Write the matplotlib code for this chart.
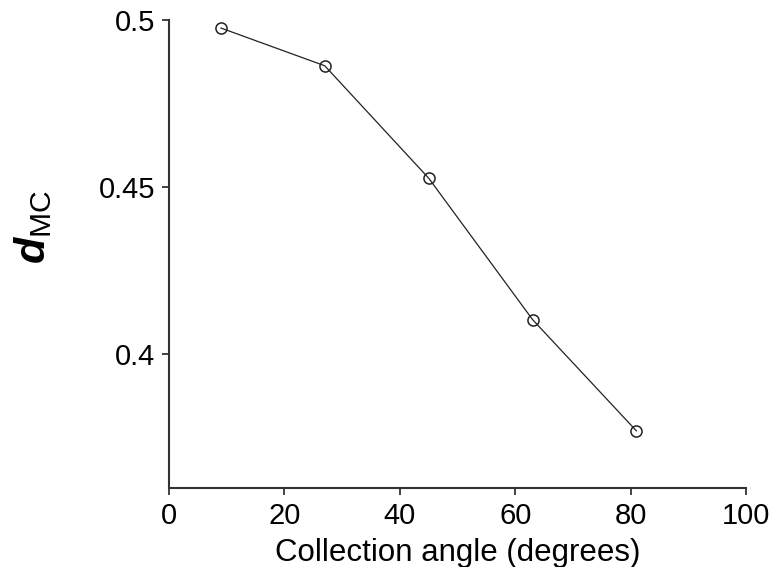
import matplotlib
matplotlib.use("Agg")
import matplotlib.pyplot as plt

# collection angle (degrees) vs d_MC
angles = [9, 27, 45, 63, 81]
d_mc = [0.4976, 0.4863, 0.4527, 0.4104, 0.3771]

x_ticks = [0, 20, 40, 60, 80, 100]
y_ticks = [0.4, 0.45, 0.5]
y_ticklabels = ["0.4", "0.45", "0.5"]

plt.rcParams['font.family'] = ['Liberation Sans', 'DejaVu Sans']
plt.rcParams['mathtext.fontset'] = 'custom'
plt.rcParams['mathtext.rm'] = 'Liberation Sans'
plt.rcParams['mathtext.it'] = 'Liberation Sans:italic:bold'
plt.rcParams['mathtext.bf'] = 'Liberation Sans:bold'

fig = plt.figure(figsize=(7.74, 5.67), dpi=100)
ax = fig.add_axes([169 / 774, 1 - 488 / 567, (746 - 169) / 774, (488 - 20) / 567])

ax.plot(angles, d_mc, color='#222222', lw=0.9, marker='o', markersize=8,
        markerfacecolor='none', markeredgecolor='#222222', markeredgewidth=1.1)

ax.set_xlim(0, 100)
ax.set_ylim(0.36, 0.5)
ax.set_xticks(x_ticks)
ax.set_yticks(y_ticks)
ax.set_yticklabels(y_ticklabels)

for side in ['top', 'right']:
    ax.spines[side].set_visible(False)
for side in ['left', 'bottom']:
    ax.spines[side].set_color('#333333')
    ax.spines[side].set_linewidth(1.5)

ax.tick_params(direction='out', length=5, width=1.3, color='#333333',
               labelsize=21, labelcolor='black', pad=5)

ax.set_xlabel('Collection angle (degrees)', fontsize=22.5, labelpad=6)
fig.text(0.043, 0.60, r'$d_{\mathrm{MC}}$', rotation=90, fontsize=31,
         ha='center', va='center')

fig.savefig('out.png', dpi=100)
